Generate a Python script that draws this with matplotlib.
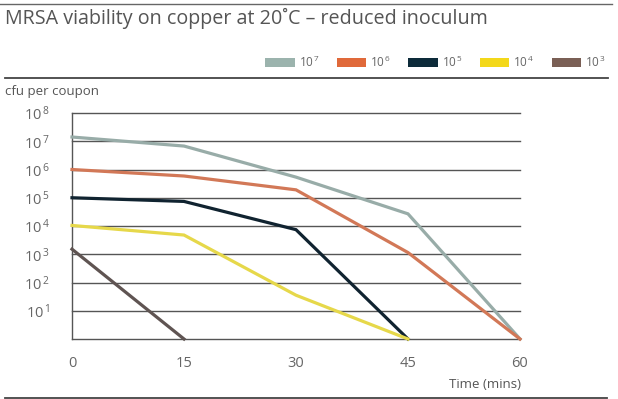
import numpy as np
import matplotlib
matplotlib.use('Agg')
from matplotlib import pyplot as plt
from matplotlib.lines import Line2D
from matplotlib.patches import Patch

# time points (mins) and log10 cfu per coupon
times = [0, 15, 30, 45, 60]
labels = ['7', '6', '5', '4', '3']
log_cfu = {
    '7': [7.15, 6.83, 5.73, 4.43, 0.0],
    '6': [6.0, 5.77, 5.28, 3.06, 0.0],
    '5': [5.0, 4.87, 3.87, 0.0],
    '4': [4.02, 3.68, 1.55, 0.0],
    '3': [3.18, 0.0],
}
patch_colors = ['#9bb3ad', '#e0693a', '#0d2b3a', '#f3d81a', '#7a5f55']
line_colors = ['#98aca8', '#d27857', '#102330', '#e6d84a', '#5f5452']
ytick_exp = [1, 2, 3, 4, 5, 6, 7, 8]

plt.rcParams['font.family'] = ['Open Sans', 'DejaVu Sans']
plt.rcParams['mathtext.fontset'] = 'custom'
plt.rcParams['mathtext.rm'] = 'Open Sans'
plt.rcParams['mathtext.it'] = 'Open Sans'
plt.rcParams['mathtext.bf'] = 'Open Sans'

W, H = 618, 399
fig = plt.figure(figsize=(W / 100, H / 100), dpi=100)
ax = fig.add_axes([72 / W, 1 - 339 / H, (520 - 72) / W, (339 - 113) / H])

for lab, col in zip(labels, line_colors):
    vals = log_cfu[lab]
    ax.plot(times[:len(vals)], 10 ** np.array(vals), color=col, lw=2.3,
            solid_joinstyle='miter', clip_on=False, zorder=3)

ax.set_yscale('log')
ax.set_ylim(1, 1e8)
ax.set_xlim(0, 60)
ax.set_xticks(times)
ax.set_xticklabels([str(t) for t in times])
ax.set_yticks([10 ** e for e in ytick_exp])
ax.set_yticklabels([r'$10^{\,%d}$' % e for e in ytick_exp])
ax.yaxis.set_minor_locator(matplotlib.ticker.NullLocator())
ax.tick_params(length=0, labelsize=10.5, labelcolor='#666666')
ax.tick_params(axis='x', pad=12)
ax.tick_params(axis='y', pad=16)
for e in range(0, 9):
    ax.axhline(10 ** e, color='#555555', lw=1.0, zorder=1, clip_on=False)
for s in ['top', 'right', 'bottom']:
    ax.spines[s].set_visible(False)
ax.spines['left'].set_color('#555555')
ax.spines['left'].set_linewidth(1.0)

fig.text(5 / W, 1 - 18 / H, 'MRSA viability on copper at 20˚C – reduced inoculum',
         fontsize=14.2, color='#555555', va='center', ha='left')
fig.text(5 / W, 1 - 91 / H, 'cfu per coupon', fontsize=9.5, color='#555555',
         va='center', ha='left')
fig.text(521 / W, 1 - 384 / H, 'Time (mins)', fontsize=9.5, color='#555555',
         va='center', ha='right')

# rules
fig.add_artist(Line2D([0, 612 / W], [1 - 4 / H] * 2, color='#666666', lw=1.0))
fig.add_artist(Line2D([5 / W, 608 / W], [1 - 78 / H] * 2, color='#444444', lw=1.3))
fig.add_artist(Line2D([5 / W, 607 / W], [1 - 397.5 / H] * 2, color='#444444', lw=1.3))

handles = [Patch(facecolor=c, edgecolor='none') for c in patch_colors]
fig.legend(handles, [r'$10^{\,%s}$' % l for l in labels], ncol=5,
           loc='center right', bbox_to_anchor=(606 / W, 1 - 62 / H),
           frameon=False, fontsize=8.5, labelcolor='#666666',
           handlelength=2.47, handleheight=0.88, handletextpad=0.35,
           columnspacing=1.45, borderpad=0, borderaxespad=0)

fig.savefig('out.png', dpi=100)
